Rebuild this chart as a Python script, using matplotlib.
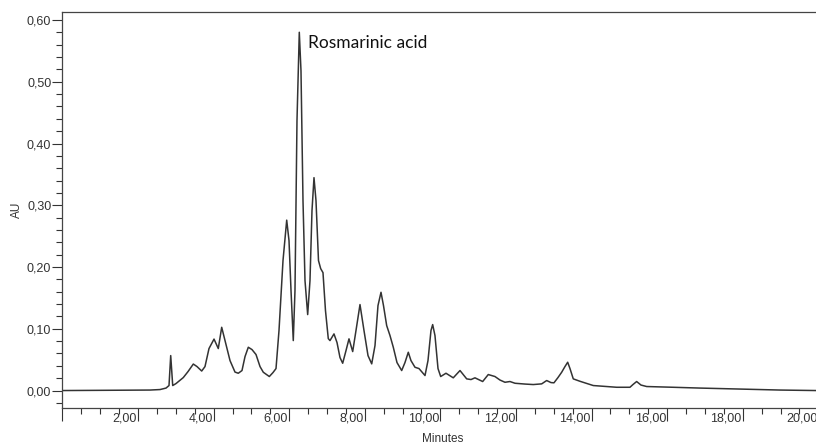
import matplotlib.pyplot as plt
from matplotlib.ticker import MultipleLocator, FuncFormatter
import matplotlib.transforms as mtransforms

# retention time (min) and absorbance (AU)
minutes = [0.00, 2.317, 2.582, 2.741, 2.820, 2.865, 2.918, 3.005, 3.198, 3.323,
           3.463, 3.561, 3.685, 3.772, 3.878, 4.011, 4.124, 4.214, 4.302, 4.434,
           4.566, 4.653, 4.751, 4.831, 4.918, 5.016, 5.122, 5.228, 5.315, 5.474,
           5.571, 5.651, 5.730, 5.836, 5.934, 5.995, 6.048, 6.108, 6.153, 6.206,
           6.267, 6.312, 6.365, 6.418, 6.489, 6.550, 6.603, 6.656, 6.709, 6.775,
           6.833, 6.894, 6.960, 7.034, 7.079, 7.185, 7.265, 7.344, 7.415, 7.503,
           7.582, 7.680, 7.767, 7.873, 7.979, 8.085, 8.183, 8.270, 8.349, 8.429,
           8.495, 8.579, 8.667, 8.754, 8.852, 8.976, 9.063, 9.151, 9.222, 9.328,
           9.434, 9.593, 9.672, 9.751, 9.796, 9.857, 9.937, 10.008, 10.148, 10.341,
           10.519, 10.696, 10.810, 10.915, 11.119, 11.267, 11.444, 11.577, 11.709, 11.841,
           11.974, 12.238, 12.458, 12.680, 12.812, 12.926, 13.005, 13.111, 13.209, 13.296,
           13.368, 13.429, 13.516, 13.693, 14.045, 14.664, 15.016, 15.095, 15.193, 15.307,
           15.458, 16.153, 16.868, 17.926, 18.984, 19.937, 20.10]
au = [0.000, 0.0008, 0.0016, 0.0040, 0.0081, 0.0566, 0.0081, 0.0113, 0.0210, 0.0307,
      0.0429, 0.0388, 0.0316, 0.0388, 0.0680, 0.0833, 0.0680, 0.1024, 0.0809, 0.0485,
      0.0299, 0.0280, 0.0324, 0.0550, 0.0701, 0.0663, 0.0583, 0.0388, 0.0296, 0.0227,
      0.0291, 0.0356, 0.0971, 0.2104, 0.2759, 0.2427, 0.1618, 0.0809, 0.1618, 0.4369,
      0.5801, 0.5178, 0.3074, 0.1780, 0.1230, 0.1780, 0.2913, 0.3447, 0.3074, 0.2104,
      0.1974, 0.1909, 0.1294, 0.0841, 0.0809, 0.0917, 0.0777, 0.0534, 0.0442, 0.0647,
      0.0837, 0.0631, 0.0971, 0.1392, 0.0971, 0.0566, 0.0432, 0.0728, 0.1375, 0.1591,
      0.1375, 0.1052, 0.0890, 0.0701, 0.0453, 0.0324, 0.0453, 0.0620, 0.0485, 0.0377,
      0.0356, 0.0243, 0.0485, 0.0971, 0.1068, 0.0890, 0.0356, 0.0227, 0.0280, 0.0206,
      0.0324, 0.0189, 0.0178, 0.0206, 0.0146, 0.0259, 0.0227, 0.0170, 0.0134, 0.0146,
      0.0118, 0.0105, 0.0097, 0.0108, 0.0162, 0.0129, 0.0125, 0.0210, 0.0296, 0.0388,
      0.0458, 0.0356, 0.0189, 0.0150, 0.0081, 0.0053, 0.0053, 0.0097, 0.0146, 0.0089,
      0.0065, 0.0053, 0.0040, 0.0024, 0.0008, 0.000, 0.000]

peak_name = 'Rosmarinic acid'
peak_label_pos = (6.505, 0.554)

plt.rcParams['font.family'] = ['Liberation Sans', 'DejaVu Sans']

fig = plt.figure(figsize=(8.16, 4.45), dpi=100)
ax = fig.add_axes([0.0765, 0.0831, 0.931, 0.8906])

ax.plot(minutes, au, color='#333333', lw=1.1)

ax.set_xlim(0, 20.1)
ax.set_ylim(-0.0283, 0.6134)

ax.xaxis.set_major_locator(MultipleLocator(2))
ax.xaxis.set_minor_locator(MultipleLocator(0.5))
ax.yaxis.set_major_locator(MultipleLocator(0.1))
ax.yaxis.set_minor_locator(MultipleLocator(0.02))

comma = FuncFormatter(lambda v, p: ('%.2f' % v).replace('.', ','))
ax.xaxis.set_major_formatter(FuncFormatter(
    lambda v, p: '' if v < 1 else ('%.2f' % v).replace('.', ',')))
ax.yaxis.set_major_formatter(comma)

ax.tick_params(axis='x', which='major', direction='out', length=9, width=0.8,
               pad=-6, labelsize=9, colors='#333333')
ax.tick_params(axis='x', which='minor', direction='out', length=4, width=0.8,
               colors='#333333')
ax.tick_params(axis='y', which='major', direction='out', length=7, width=0.8,
               pad=1, labelsize=9, colors='#333333')
ax.tick_params(axis='y', which='minor', direction='out', length=4, width=0.8,
               colors='#333333')

# labels sit just left of their tick, as in the instrument software
shift = mtransforms.ScaledTranslation(-1 / 100, 0, fig.dpi_scale_trans)
for lab in ax.get_xticklabels():
    lab.set_horizontalalignment('right')
    lab.set_transform(lab.get_transform() + shift)

for side in ['left', 'top', 'bottom']:
    ax.spines[side].set_color('#444444')
    ax.spines[side].set_linewidth(0.9)
ax.spines['right'].set_visible(False)

ax.set_xlabel('Minutes', fontsize=8.5, color='#333333', labelpad=6)
ax.set_ylabel('AU', fontsize=8.5, color='#333333', labelpad=3)

ax.text(peak_label_pos[0], peak_label_pos[1], peak_name, fontsize=12.5,
        family=['Lato', 'DejaVu Sans'], va='baseline', ha='left', color='#111111')

fig.savefig('out.png', dpi=100)
